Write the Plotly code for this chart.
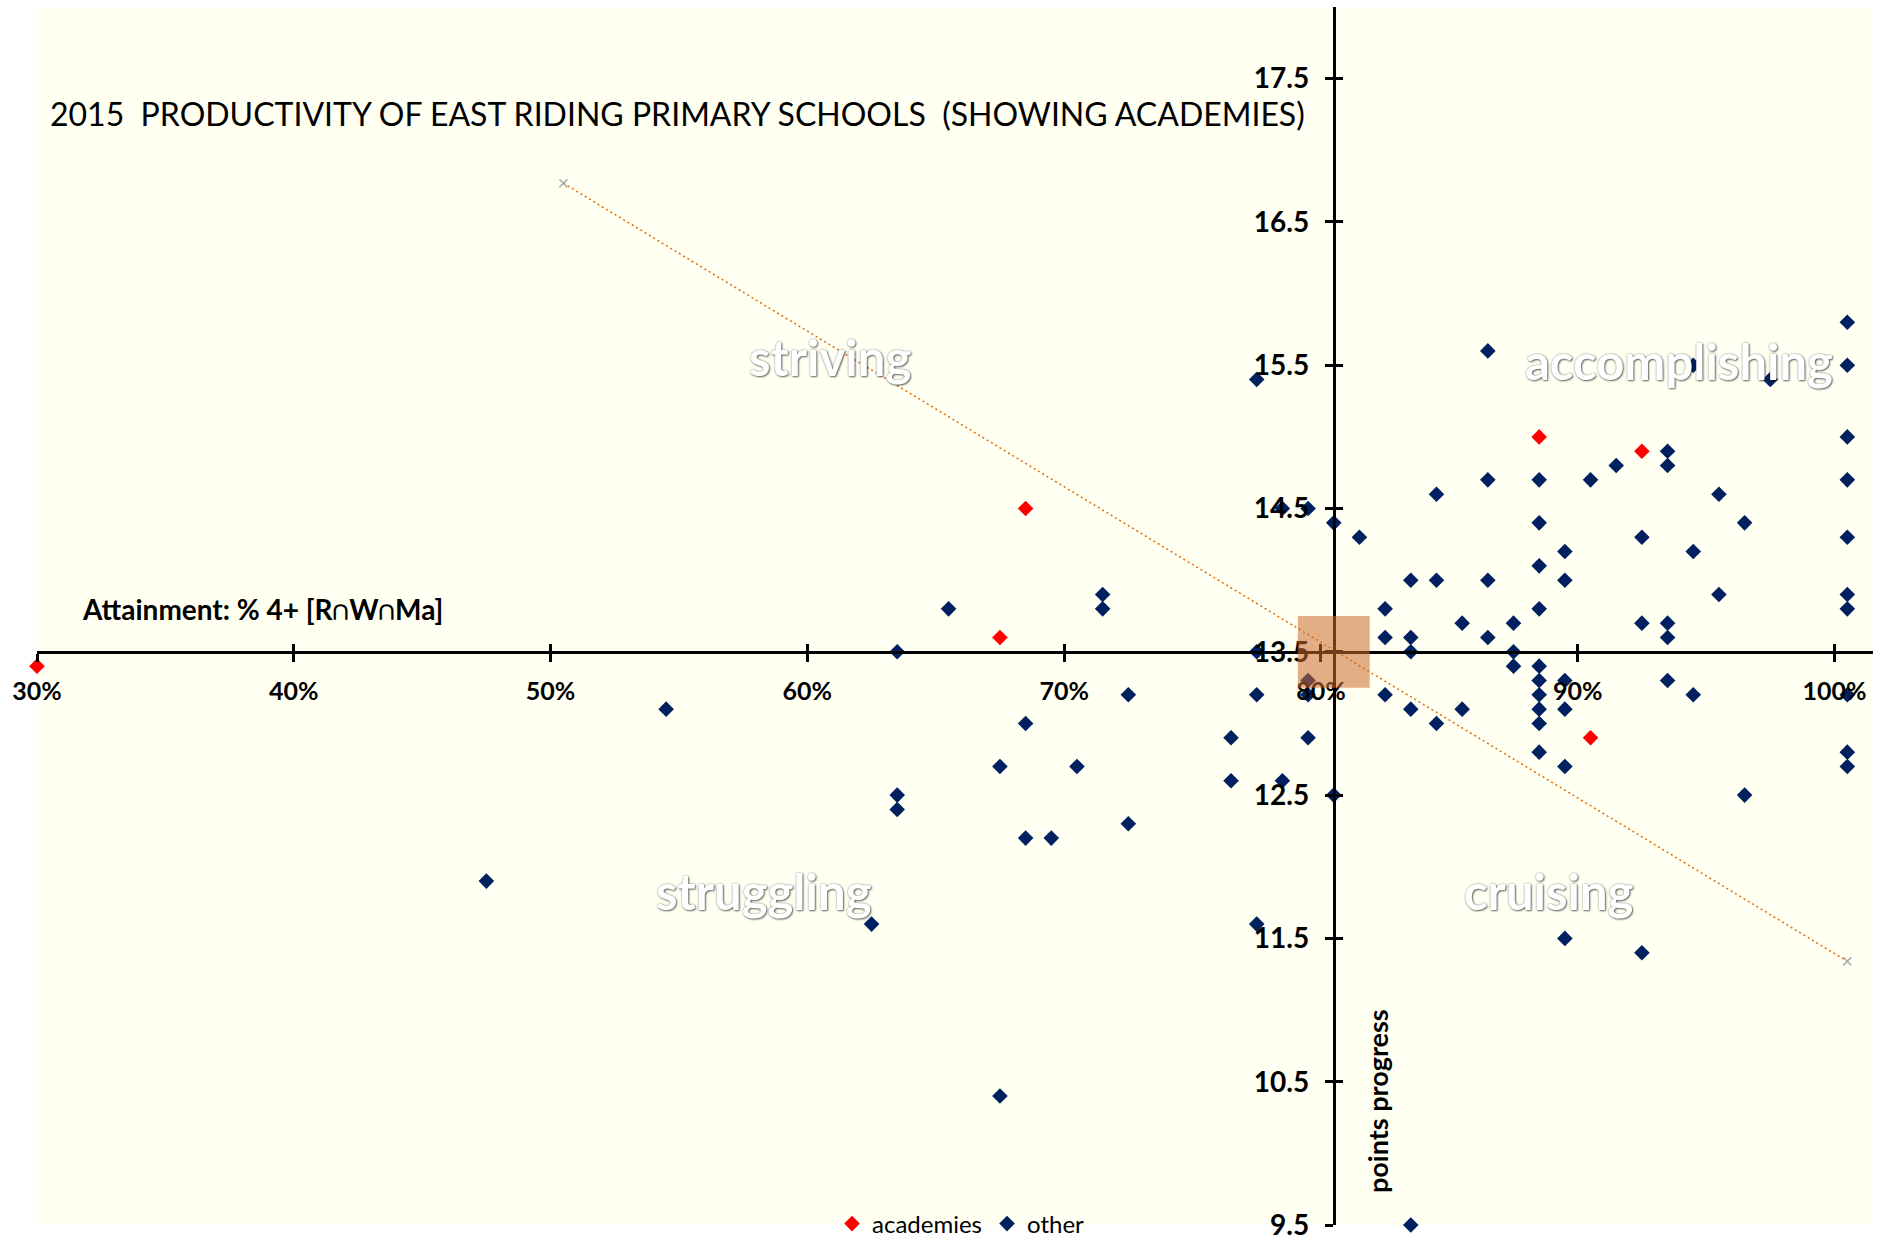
import plotly.graph_objects as go

# ---------------- data ----------------
acad_x = [30.0, 67.5, 68.5, 88.5, 92.5, 90.5]
acad_y = [13.4, 13.6, 14.5, 15.0, 14.9, 12.9]

other_x = [47.5, 54.5, 62.5, 63.5, 63.5, 63.5, 65.5, 67.5, 67.5, 68.5, 68.5, 69.5,
           70.5, 71.5, 71.5, 72.5, 72.5, 76.5, 76.5, 77.5, 77.5, 77.5, 77.5, 78.5,
           78.5, 79.5, 79.5, 79.5, 79.5, 80.5, 80.5, 81.5, 82.5, 82.5, 82.5, 83.5,
           83.5, 83.5, 83.5, 83.5, 84.5, 84.5, 84.5, 85.5, 85.5, 86.5, 86.5, 86.5,
           86.5, 87.5, 87.5, 87.5, 88.5, 88.5, 88.5, 88.5, 88.5, 88.5, 88.5, 88.5,
           88.5, 88.5, 89.5, 89.5, 89.5, 89.5, 89.5, 89.5, 90.5, 91.5, 92.5, 92.5,
           92.5, 93.5, 93.5, 93.5, 93.5, 93.5, 94.5, 94.5, 94.5, 95.5, 95.5, 96.5,
           96.5, 97.5, 100.5, 100.5, 100.5, 100.5, 100.5, 100.5, 100.5, 100.5,
           100.5, 100.5]
other_y = [11.9, 13.1, 11.6, 13.5, 12.5, 12.4, 13.8, 12.7, 10.4, 13.0, 12.2, 12.2,
           12.7, 13.9, 13.8, 13.2, 12.3, 12.9, 12.6, 15.4, 13.5, 13.2, 11.6, 14.5,
           12.6, 14.5, 13.3, 13.2, 12.9, 14.4, 12.5, 14.3, 13.8, 13.6, 13.2, 14.0,
           13.6, 13.5, 13.1, 9.5, 14.6, 14.0, 13.0, 13.7, 13.1, 15.6, 14.7, 14.0,
           13.6, 13.7, 13.5, 13.4, 14.7, 14.4, 14.1, 13.8, 13.4, 13.3, 13.2, 13.1,
           13.0, 12.8, 14.2, 14.0, 13.3, 13.1, 12.7, 11.5, 14.7, 14.8, 14.3, 13.7,
           11.4, 14.9, 14.8, 13.7, 13.6, 13.3, 15.5, 14.2, 13.2, 14.6, 13.9, 14.4,
           12.5, 15.4, 15.8, 15.5, 15.0, 14.7, 14.3, 13.9, 13.8, 13.2, 12.8, 12.7]

trend_x = [50.5, 100.5]
trend_y = [16.77, 11.34]

cross_x = 80.5
cross_y = 13.5
box_half_w = 1.4
box_half_h = 0.25

x_ticks = [30, 40, 50, 60, 70, 80, 90, 100]
x_tick_text = ["30%", "40%", "50%", "60%", "70%", "80%", "90%", "100%"]
y_ticks = [9.5, 10.5, 11.5, 12.5, 13.5, 14.5, 15.5, 16.5, 17.5]
y_tick_text = ["9.5", "10.5", "11.5", "12.5", "13.5", "14.5", "15.5", "16.5", "17.5"]

quadrants = [("striving", 60.9, 15.56), ("accomplishing", 93.96, 15.53),
             ("struggling", 58.3, 11.83), ("cruising", 88.9, 11.83)]

X_RANGE = [30, 101.5]
Y_RANGE = [9.5, 18.0]

FONT = "Lato"
NAVY = "#002060"

FIG_W, FIG_H = 1881, 1239
M_L, M_R, M_T, M_B = 37, 8, 7, 14
PLOT_W = FIG_W - M_L - M_R
PLOT_H = FIG_H - M_T - M_B

fig = go.Figure()

fig.add_trace(go.Scatter(
    x=trend_x, y=trend_y, mode="lines+markers", showlegend=False,
    line=dict(color="#E26B0A", width=1.5, dash="2px,3px"),
    marker=dict(symbol="x-thin", size=8, line=dict(color="#A6A6A6", width=1.5)),
    hoverinfo="skip"))

fig.add_trace(go.Scatter(
    x=acad_x, y=acad_y, mode="markers", name="academies", cliponaxis=False,
    marker=dict(symbol="diamond", size=12, color="#FF0000")))

fig.add_trace(go.Scatter(
    x=other_x, y=other_y, mode="markers", name="other", cliponaxis=False,
    marker=dict(symbol="diamond", size=12, color=NAVY)))

# invisible trace for the overlay axes (inner half of crossing ticks)
fig.add_trace(go.Scatter(x=[cross_x], y=[cross_y], xaxis="x2", yaxis="y2",
                         mode="markers", marker=dict(opacity=0), showlegend=False,
                         hoverinfo="skip"))

xpos = (cross_y - Y_RANGE[0]) / (Y_RANGE[1] - Y_RANGE[0])
ypos = (cross_x - X_RANGE[0]) / (X_RANGE[1] - X_RANGE[0])

xtickfont = dict(family=FONT, size=25, color="black", weight="bold")
ytickfont = dict(family=FONT, size=28, color="black", weight="bold")

fig.update_layout(
    width=FIG_W, height=FIG_H,
    margin=dict(l=M_L, r=M_R, t=M_T, b=M_B, pad=0, autoexpand=False),
    paper_bgcolor="white",
    plot_bgcolor="#FFFFF2",
    font=dict(family=FONT, color="black"),
    xaxis=dict(range=X_RANGE, anchor="free", position=xpos, automargin=False,
               showline=True, linecolor="black", linewidth=3,
               ticks="outside", ticklen=8, tickwidth=2.5, tickcolor="black",
               tickvals=x_ticks, ticktext=x_tick_text, tickfont=xtickfont,
               ticklabelstandoff=8, ticklabeloverflow="allow",
               showgrid=False, zeroline=False),
    yaxis=dict(range=Y_RANGE, anchor="free", position=ypos, automargin=False,
               showline=True, linecolor="black", linewidth=3,
               ticks="outside", ticklen=8, tickwidth=2.5, tickcolor="black",
               tickvals=y_ticks, ticktext=y_tick_text, tickfont=ytickfont,
               ticklabelstandoff=10, ticklabeloverflow="allow",
               showgrid=False, zeroline=False),
    xaxis2=dict(range=X_RANGE, overlaying="x", anchor="free", position=xpos,
                automargin=False,
                showline=False, ticks="inside", ticklen=8, tickwidth=2.5,
                tickcolor="black", tickvals=x_ticks, showticklabels=False,
                showgrid=False, zeroline=False),
    yaxis2=dict(range=Y_RANGE, overlaying="y", anchor="free", position=ypos,
                automargin=False,
                showline=False, ticks="inside", ticklen=8, tickwidth=2.5,
                tickcolor="black", tickvals=y_ticks, showticklabels=False,
                showgrid=False, zeroline=False),
    legend=dict(orientation="h", x=(961 - M_L) / PLOT_W, xanchor="center",
                y=(FIG_H - 1224) / FIG_H, yref="container", yanchor="middle",
                bgcolor="rgba(0,0,0,0)", font=dict(family=FONT, size=24),
                itemwidth=30, tracegroupgap=0),
    showlegend=True,
)

fig.add_shape(type="rect", xref="x", yref="y", layer="above",
              x0=cross_x - box_half_w, x1=cross_x + box_half_w,
              y0=cross_y - box_half_h, y1=cross_y + box_half_h,
              fillcolor="rgba(202,108,44,0.55)", line=dict(width=0))


def px_to_paper(px, py):
    """page pixel -> paper coordinates of the plot area"""
    return (px - M_L) / PLOT_W, 1 - (py - M_T) / PLOT_H


tx, ty = px_to_paper(48, 114)
fig.add_annotation(text="2015  PRODUCTIVITY OF EAST RIDING PRIMARY SCHOOLS  (SHOWING ACADEMIES)",
                   xref="paper", yref="paper", x=tx, y=ty,
                   xanchor="left", yanchor="middle", showarrow=False,
                   font=dict(family=FONT, size=32, color="black"))

ax_, ay_ = px_to_paper(80, 609)
fig.add_annotation(text="Attainment: % 4+ [R∩W∩Ma]",
                   xref="paper", yref="paper", x=ax_, y=ay_,
                   xanchor="left", yanchor="middle", showarrow=False,
                   font=dict(family=FONT, size=28, color="black", weight="bold"))

px_, py_ = px_to_paper(1377, 1101)
fig.add_annotation(text="points progress", textangle=-90,
                   xref="paper", yref="paper", x=px_, y=py_,
                   xanchor="center", yanchor="middle", showarrow=False,
                   font=dict(family=FONT, size=27, color="black", weight="bold"))

for label, qx, qy in quadrants:
    fig.add_annotation(text=label, x=qx, y=qy, xref="x", yref="y", showarrow=False,
                       xanchor="center", yanchor="middle",
                       font=dict(family=FONT, size=49, color="white", weight="bold",
                                 shadow="1px 1px 2px rgba(0,0,0,0.55), 0px 0px 2px rgba(0,0,0,0.45)"))

fig.write_html("out.html", config={"displayModeBar": False},
               post_script="document.body.style.margin='0';document.body.style.overflow='hidden';")
